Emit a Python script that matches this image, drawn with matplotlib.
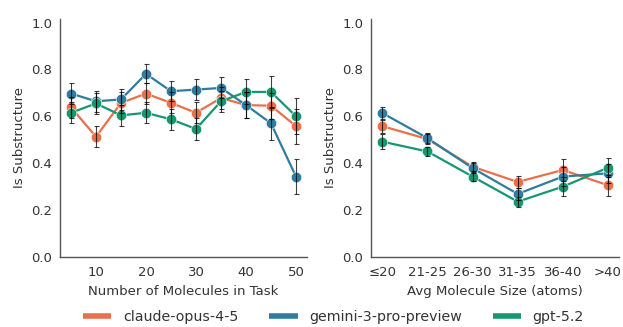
import matplotlib
matplotlib.use('Agg')
import matplotlib.pyplot as plt
from matplotlib.lines import Line2D

# data
models = ["claude-opus-4-5", "gemini-3-pro-preview", "gpt-5.2"]
colors = ["#E8704A", "#2F7C9E", "#16976F"]

n_molecules = [5, 10, 15, 20, 25, 30, 35, 40, 45, 50]
left_claude = [0.638, 0.513, 0.657, 0.697, 0.657, 0.615, 0.678, 0.648, 0.645, 0.558]
left_gemini = [0.697, 0.664, 0.672, 0.781, 0.707, 0.714, 0.721, 0.648, 0.570, 0.343]
left_gpt = [0.615, 0.655, 0.604, 0.615, 0.587, 0.546, 0.664, 0.704, 0.704, 0.600]
left_err_claude = [0.045, 0.046, 0.045, 0.045, 0.045, 0.045, 0.045, 0.055, 0.055, 0.075]
left_err_gemini = [0.045, 0.045, 0.045, 0.040, 0.043, 0.043, 0.045, 0.055, 0.070, 0.074]
left_err_gpt = [0.045, 0.045, 0.045, 0.045, 0.045, 0.045, 0.045, 0.053, 0.067, 0.076]

size_bins = ["≤20", "21-25", "26-30", "31-35", "36-40", ">40"]
right_claude = [0.558, 0.503, 0.385, 0.320, 0.371, 0.306]
right_gemini = [0.614, 0.507, 0.379, 0.269, 0.343, 0.357]
right_gpt = [0.492, 0.450, 0.343, 0.236, 0.300, 0.381]
right_err_claude = [0.028, 0.020, 0.020, 0.027, 0.045, 0.045]
right_err_gemini = [0.026, 0.020, 0.020, 0.025, 0.040, 0.040]
right_err_gpt = [0.031, 0.018, 0.018, 0.022, 0.040, 0.040]

yticks = [0.0, 0.2, 0.4, 0.6, 0.8, 1.0]

text_color = "#333333"
plt.rcParams.update({
    "font.family": "DejaVu Sans",
    "text.color": text_color,
    "axes.labelcolor": text_color,
    "xtick.color": text_color,
    "ytick.color": text_color,
})


def style_axes(ax):
    ax.spines['right'].set_visible(False)
    ax.spines['top'].set_visible(False)
    for s in ('left', 'bottom'):
        ax.spines[s].set_color('#555555')
        ax.spines[s].set_linewidth(1.0)
    ax.tick_params(axis='x', length=0, pad=6.5, labelsize=9.5)
    ax.tick_params(axis='y', length=0, pad=5.5, labelsize=9.5)
    ax.set_ylim(0, 1.015)
    ax.set_yticks(yticks)
    ax.set_ylabel("Is Substructure", fontsize=9.5)


def draw_series(ax, x, ys, errs):
    for y, e, c in zip(ys, errs, colors):
        ax.plot(x, y, '-o', color=c, linewidth=1.6, markersize=7.5,
                markeredgecolor='white', markeredgewidth=0.4, zorder=2)
        ax.errorbar(x, y, yerr=e, fmt='none', ecolor='black', elinewidth=0.8,
                    capsize=1.8, capthick=0.8, alpha=0.75, zorder=3)


fig = plt.figure(figsize=(6.23, 3.27), dpi=100)
ax1 = fig.add_axes([59.75 / 623, 1 - 257 / 327, (307.25 - 59.75) / 623, (257 - 19) / 327])
ax2 = fig.add_axes([371 / 623, 1 - 257 / 327, (619.3 - 371) / 623, (257 - 19) / 327])

draw_series(ax1, n_molecules, [left_claude, left_gemini, left_gpt],
            [left_err_claude, left_err_gemini, left_err_gpt])
style_axes(ax1)
ax1.set_xticks([10, 20, 30, 40, 50])
ax1.set_xlim(2.75, 52.25)
ax1.set_xlabel("Number of Molecules in Task", fontsize=9.5)

pos = list(range(len(size_bins)))
draw_series(ax2, pos, [right_claude, right_gemini, right_gpt],
            [right_err_claude, right_err_gemini, right_err_gpt])
style_axes(ax2)
ax2.set_xticks(pos)
ax2.set_xticklabels(size_bins)
ax2.set_xlim(-0.25, 5.25)
ax2.set_xlabel("Avg Molecule Size (atoms)", fontsize=9.5)

handles = [Line2D([], [], color=c, linewidth=4.0, solid_capstyle='butt') for c in colors]
fig.legend(handles, models, loc='center', bbox_to_anchor=(333.5 / 623, 1 - 317 / 327),
           ncol=3, frameon=False, fontsize=10.2, handlelength=2.0, columnspacing=2.2,
           handletextpad=0.8)

fig.savefig("out.png", dpi=100)
